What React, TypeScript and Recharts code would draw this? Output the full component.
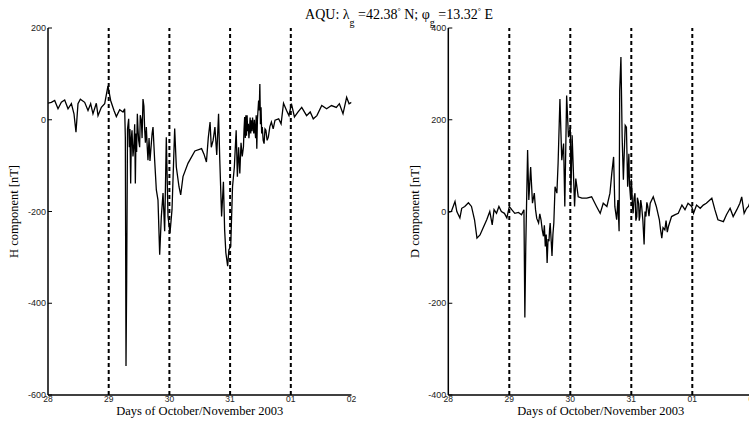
import React from 'react';
import { LineChart, Line, XAxis, YAxis, ReferenceLine } from 'recharts';

const SERIF = '"Liberation Serif", "Times New Roman", serif';
const SANS = '"Liberation Sans", Arial, sans-serif';

const dayTicks = [0, 1, 2, 3, 4, 5];
const dayLabels = ['28', '29', '30', '31', '01', '02'];
const dayBoundaries = [1, 2, 3, 4];
const hTicks = [-600, -400, -200, 0, 200];
const dTicks = [-400, -200, 0, 200, 400];

// H component (days since 28 Oct 00:00, nT)
const hTimes = [
  0.0, 0.055, 0.11, 0.165, 0.22, 0.275, 0.33, 0.385, 0.428, 0.461, 0.494, 0.533, 0.604, 0.659, 0.703, 0.741,
  0.796, 0.824, 0.879, 0.934, 0.988, 1.032, 1.087, 1.126, 1.181, 1.236, 1.263, 1.274, 1.285, 1.296, 1.31,
  1.329, 1.34, 1.35, 1.362, 1.373, 1.384, 1.4, 1.417, 1.428, 1.439, 1.45, 1.46, 1.472, 1.483, 1.494, 1.51,
  1.52, 1.538, 1.55, 1.565, 1.58, 1.593, 1.605, 1.62, 1.635, 1.647, 1.665, 1.68, 1.702, 1.715, 1.73, 1.757,
  1.785, 1.812, 1.84, 1.867, 1.895, 1.922, 1.949, 1.977, 2.01, 2.043, 2.087, 2.114, 2.158, 2.186, 2.224,
  2.306, 2.42, 2.53, 2.57, 2.61, 2.64, 2.67, 2.69, 2.72, 2.75, 2.78, 2.81, 2.83, 2.86, 2.89, 2.91, 2.93,
  2.96, 2.98, 3.01, 3.04, 3.07, 3.1, 3.12, 3.14, 3.16, 3.18, 3.2, 3.22, 3.23, 3.24, 3.25, 3.26, 3.27, 3.28,
  3.29, 3.3, 3.31, 3.32, 3.33, 3.34, 3.35, 3.36, 3.37, 3.38, 3.39, 3.4, 3.41, 3.42, 3.43, 3.44, 3.45, 3.47,
  3.48, 3.49, 3.5, 3.51, 3.52, 3.53, 3.545, 3.56, 3.575, 3.59, 3.61, 3.63, 3.655, 3.68, 3.71, 3.74, 3.8,
  3.84, 3.88, 3.93, 3.97, 4.01, 4.06, 4.12, 4.18, 4.26, 4.32, 4.37, 4.43, 4.51, 4.59, 4.67, 4.75, 4.8, 4.86,
  4.92, 4.96, 5.0,
];
const hValues = [
  36, 38, 42, 24, 38, 43, 24, 35, 13, -27, 35, 45, 38, 20, 35, 13,
  36, 9, 27, 35, 74, 42, 20, 7, 22, 17, 24, -38, -537, -350, -20,
  2, -60, -20, -139, -40, -23, -80, -52, -10, -139, -30, -70, 13, -20, -45, -60,
  10, -1, -40, 45, 30, -23, -50, -16, -60, -88, -40, -90, -52, -30, -16, -88,
  -153, -175, -294, -211, -160, -243, -38, -211, -247, -196, -19, -103, -146, -164, -124,
  -95, -68, -63, -75, -92, -40, -5, -60, -45, -16, -77, 13, -88, -211, -135, -240, -290,
  -319, -283, -276, -146, -103, -23, -124, -60, -117, -50, -80, -59, -20, 6, -40, 10, -35, 10,
  -25, -9, -40, -20, 5, -30, -1, -25, 5, -15, -30, 0, -23, -40, 10, -63, 0, 42,
  20, 78, -10, 27, -30, -16, -45, -52, -20, -23, -45, -38, -15, -5, -20, -1, 2,
  -9, 36, 20, 9, 35, 6, 17, 27, 9, 17, 2, 9, 31, 24, 31, 27, 35, 13,
  49, 35, 38,
];

// D component (days since 28 Oct 00:00, nT)
const dTimes = [
  0.0, 0.05, 0.11, 0.14, 0.19, 0.22, 0.27, 0.33, 0.38, 0.43, 0.47, 0.52, 0.57, 0.63, 0.68, 0.72, 0.75,
  0.79, 0.83, 0.87, 0.92, 0.96, 1.0, 1.04, 1.09, 1.15, 1.2, 1.24, 1.255, 1.27, 1.3, 1.32, 1.35, 1.38,
  1.41, 1.43, 1.45, 1.48, 1.5, 1.52, 1.54, 1.56, 1.575, 1.59, 1.605, 1.62, 1.635, 1.65, 1.66, 1.67, 1.685,
  1.7, 1.715, 1.73, 1.75, 1.78, 1.8, 1.83, 1.86, 1.89, 1.91, 1.94, 1.97, 2.0, 2.01, 2.03, 2.07, 2.09,
  2.13, 2.19, 2.27, 2.35, 2.43, 2.49, 2.54, 2.6, 2.65, 2.68, 2.71, 2.73, 2.76, 2.78, 2.8, 2.81, 2.83,
  2.85, 2.87, 2.9, 2.92, 2.94, 2.96, 2.97, 2.99, 3.0, 3.01, 3.02, 3.03, 3.045, 3.06, 3.075, 3.09, 3.1,
  3.12, 3.13, 3.14, 3.155, 3.17, 3.19, 3.21, 3.225, 3.24, 3.255, 3.27, 3.29, 3.31, 3.36, 3.41, 3.46,
  3.48, 3.5, 3.52, 3.55, 3.57, 3.59, 3.61, 3.66, 3.72, 3.77, 3.83, 3.88, 3.93, 3.99, 4.02, 4.07, 4.13,
  4.18, 4.23, 4.32, 4.37, 4.42, 4.51, 4.56, 4.62, 4.67, 4.73, 4.78, 4.81, 4.85, 4.89, 4.92, 4.96, 5.0,
];
const dValues = [
  -2, 0, 22, 0, -14, 7, 11, 19, 11, -18, -58, -51, -36, -18, 0, -29, 4,
  -4, 11, 0, -4, -14, 11, 4, -4, -2, -7, 4, -231, -76, 134, 25, 97, 18,
  40, 4, -15, -25, -5, -18, -40, -54, -30, -76, -50, -112, -60, -65, -40, -25, -60,
  -97, -50, -25, 54, 40, 105, 245, 112, 148, 11, 253, 162, 184, 40, 166, 11, 72,
  32, 29, 29, 32, 11, -4, 18, 11, 40, 83, 119, 11, -18, 25, -43, 264, 337,
  162, 69, 188, 184, 54, 126, 60, 25, 70, 47, 10, -4, 30, 40, -20, -11, 30,
  18, -20, -11, 25, 11, -20, -72, 0, -11, 20, 11, -10, 18, 32, 11, -18,
  -40, -58, -35, -40, -20, -45, -32, -11, -7, -4, 14, 4, 18, 11, -4, 14, 7,
  14, 18, 29, 4, -18, -22, -7, 7, -11, 4, 18, 32, -4, 7, 11, 25, 20,
];

const hData = hTimes.map((t, i) => ({ t, v: hValues[i] }));
const dData = dTimes.map((t, i) => ({ t, v: dValues[i] }));

const YTick = (props: any) => {
  const { x, y, payload } = props;
  const ax = x + 2;
  return (
    <g>
      <line x1={ax} x2={ax + 4} y1={y} y2={y} stroke="#000" strokeWidth={1} />
      <text x={x} y={y} dy={3} textAnchor="end" fontSize={9} fontFamily={SANS} fill="#222">
        {payload.value}
      </text>
    </g>
  );
};

const XTick = (props: any) => {
  const { x, y, payload } = props;
  const label = dayLabels[dayTicks.indexOf(payload.value)];
  return (
    <text x={x} y={y} dy={5} textAnchor="middle" fontSize={8.5} fontFamily={SANS} fill="#222">
      {label}
    </text>
  );
};

const Empty = () => <g />;

type PanelProps = {
  data: { t: number; v: number }[];
  yDomain: [number, number];
  yTicks: number[];
  yLabel: string;
  left: number;
  yWidth: number;
  rightMargin: number;
};

const Panel = ({ data, yDomain, yTicks, yLabel, left, yWidth, rightMargin }: PanelProps) => (
  <div style={{ position: 'absolute', left, top: 0 }}>
    <LineChart width={360} height={424} data={data} margin={{ top: 28, right: rightMargin, bottom: 0, left: 0 }}>
      <XAxis
        dataKey="t"
        type="number"
        domain={[0, 5]}
        ticks={dayTicks}
        height={29}
        tickSize={0}
        tickMargin={2}
        tickLine={false}
        tick={<XTick />}
        axisLine={{ stroke: '#000', strokeWidth: 1.5 }}
        allowDataOverflow
        label={{
          value: 'Days of October/November 2003',
          position: 'insideBottom',
          offset: 9,
          fontFamily: SERIF,
          fontSize: 12.5,
          fill: '#000',
        }}
      />
      <XAxis
        xAxisId="top"
        dataKey="t"
        type="number"
        orientation="top"
        domain={[0, 5]}
        height={0}
        tick={Empty}
        tickLine={false}
        axisLine={{ stroke: '#000', strokeWidth: 1 }}
      />
      <YAxis
        type="number"
        domain={yDomain}
        ticks={yTicks}
        width={yWidth}
        tickSize={0}
        tickMargin={2}
        tickLine={false}
        tick={<YTick />}
        axisLine={{ stroke: '#000', strokeWidth: 1.5 }}
        allowDataOverflow
        label={{
          value: yLabel,
          angle: -90,
          position: 'center',
          dx: -10,
          fontFamily: SERIF,
          fontSize: 12.5,
          fill: '#000',
        }}
      />
      <YAxis
        yAxisId="right"
        type="number"
        orientation="right"
        domain={yDomain}
        ticks={yTicks}
        width={0}
        mirror
        tickSize={4}
        tick={Empty}
        tickLine={{ stroke: '#000' }}
        axisLine={{ stroke: '#000', strokeWidth: 1 }}
      />
      {dayBoundaries.map((d) => (
        <ReferenceLine key={d} x={d} stroke="#000" strokeWidth={2} strokeDasharray="4 3" />
      ))}
      <Line type="linear" dataKey="v" stroke="#000" strokeWidth={1.3} dot={false} isAnimationActive={false} />
    </LineChart>
  </div>
);

export default function App() {
  return (
    <div
      style={{
        position: 'fixed',
        left: 0,
        top: 0,
        width: 749,
        height: 424,
        overflow: 'hidden',
        background: '#fff',
      }}
    >
      <Panel data={hData} yDomain={[-600, 200]} yTicks={hTicks} yLabel="H component [nT]" left={0} yWidth={48} rightMargin={8.5} />
      <Panel data={dData} yDomain={[-400, 400]} yTicks={dTicks} yLabel="D component [nT]" left={400} yWidth={48.3} rightMargin={6.7} />
      <div
        style={{
          position: 'absolute',
          left: 399,
          top: 3,
          transform: 'translateX(-50%)',
          whiteSpace: 'nowrap',
          fontFamily: SERIF,
          fontSize: 14,
          color: '#000',
          lineHeight: '17px',
        }}
      >
        AQU: λ<sub style={{ fontSize: 10, verticalAlign: -7 }}>g</sub> =42.38
        <sup style={{ fontSize: 8, verticalAlign: 5 }}>°</sup> N; φ
        <sub style={{ fontSize: 10, verticalAlign: -7 }}>g</sub> =13.32
        <sup style={{ fontSize: 8, verticalAlign: 5 }}>°</sup> E
      </div>
    </div>
  );
}
